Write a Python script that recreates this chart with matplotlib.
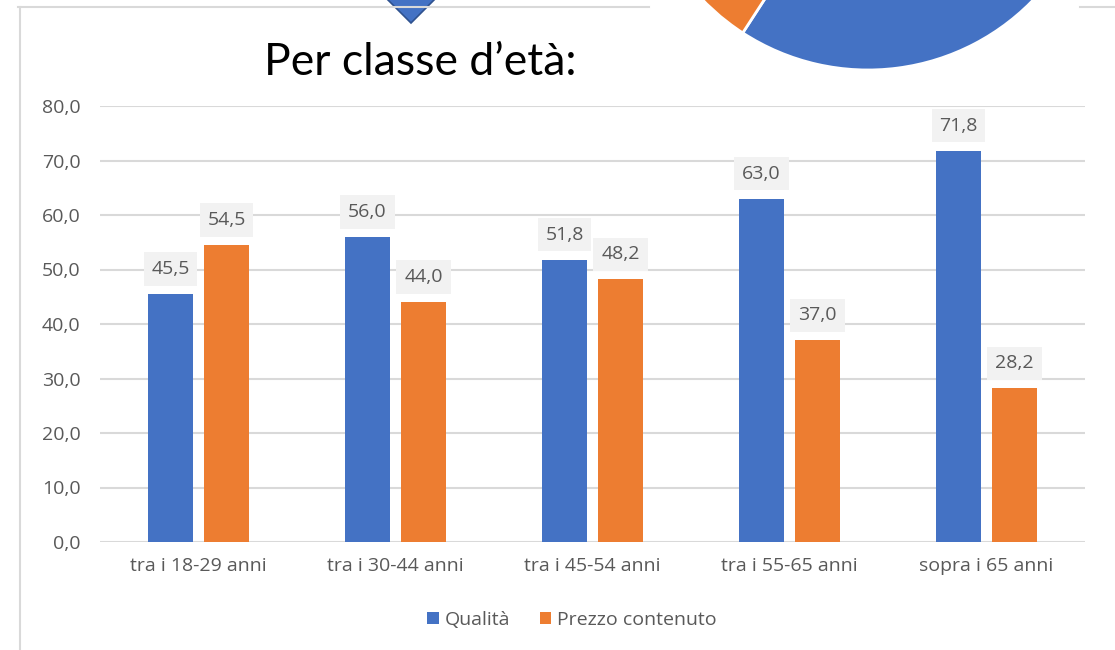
import numpy as np
import matplotlib
matplotlib.use("Agg")
import matplotlib.pyplot as plt
from matplotlib.patches import Wedge, Polygon

# data
categorie = ["tra i 18-29 anni", "tra i 30-44 anni", "tra i 45-54 anni",
             "tra i 55-65 anni", "sopra i 65 anni"]
qualita = [45.5, 56.0, 51.8, 63.0, 71.8]
prezzo = [54.5, 44.0, 48.2, 37.0, 28.2]
yticks = [0, 10, 20, 30, 40, 50, 60, 70, 80]

BLUE = "#4472C4"
ORANGE = "#ED7D31"
GRID = "#D9D9D9"
TXT = "#595959"

plt.rcParams["font.family"] = ["Open Sans", "DejaVu Sans"]

fig = plt.figure(figsize=(11.15, 6.5), dpi=100)

# decoration layer in pixel coords (y up)
deco = fig.add_axes([0, 0, 1, 1])
deco.set_xlim(0, 1115)
deco.set_ylim(0, 650)
deco.axis("off")
deco.plot([20, 20], [0, 643], color=GRID, lw=1.5)
deco.plot([18, 649], [643, 643], color=GRID, lw=1.5)
deco.plot([1080, 1115], [643, 643], color=GRID, lw=1.5)
deco.add_patch(Wedge((868, 810), 230, 237, 560, facecolor=BLUE,
                     edgecolor="white", lw=2))
deco.add_patch(Wedge((868, 810), 230, 200, 237, facecolor=ORANGE,
                     edgecolor="white", lw=2))
deco.add_patch(Polygon([[386, 652], [436, 652], [411, 627]], closed=True,
                       facecolor=BLUE, edgecolor="#2F528F", lw=1.2))
deco.text(420, 575, "Per classe d\u2019età:", ha="center", va="baseline",
          fontsize=32, color="black", family=["Lato", "DejaVu Sans"])

ax = fig.add_axes([100 / 1115, 1 - 542 / 650, 985 / 1115, 436 / 650])
x = np.arange(len(categorie))
w = 0.224
off = 0.142
b1 = ax.bar(x - off, qualita, w, color=BLUE, label="Qualità", zorder=3)
b2 = ax.bar(x + off, prezzo, w, color=ORANGE, label="Prezzo contenuto", zorder=3)

for bars, vals in ((b1, qualita), (b2, prezzo)):
    for r, v in zip(bars, vals):
        ax.annotate(f"{v:.1f}".replace(".", ","),
                    (r.get_x() + r.get_width() / 2, v),
                    xytext=(0, 18), textcoords="offset points",
                    ha="center", va="center", fontsize=14, color=TXT,
                    bbox=dict(boxstyle="square,pad=0.4", fc="#F2F2F2", ec="none"),
                    zorder=4)

ax.set_xlim(-0.5, len(categorie) - 0.5)
ax.set_ylim(0, 80)
ax.set_yticks(yticks)
ax.set_yticklabels([f"{t:.1f}".replace(".", ",") for t in yticks])
ax.set_xticks(x)
ax.set_xticklabels(categorie)
ax.tick_params(length=0, labelsize=14, labelcolor=TXT)
ax.tick_params(axis="y", pad=14)
ax.tick_params(axis="x", pad=11)
ax.grid(axis="y", color=GRID, lw=1.5, zorder=0)
for s in ax.spines.values():
    s.set_visible(False)
ax.set_facecolor("none")

leg = fig.legend(loc="center", bbox_to_anchor=(572 / 1115, 1 - 620 / 650),
                 ncol=2, frameon=False, fontsize=14, handlelength=0.6,
                 handleheight=0.6, handletextpad=0.3, columnspacing=1.5)
for t in leg.get_texts():
    t.set_color(TXT)

fig.savefig("out.png", dpi=100)
